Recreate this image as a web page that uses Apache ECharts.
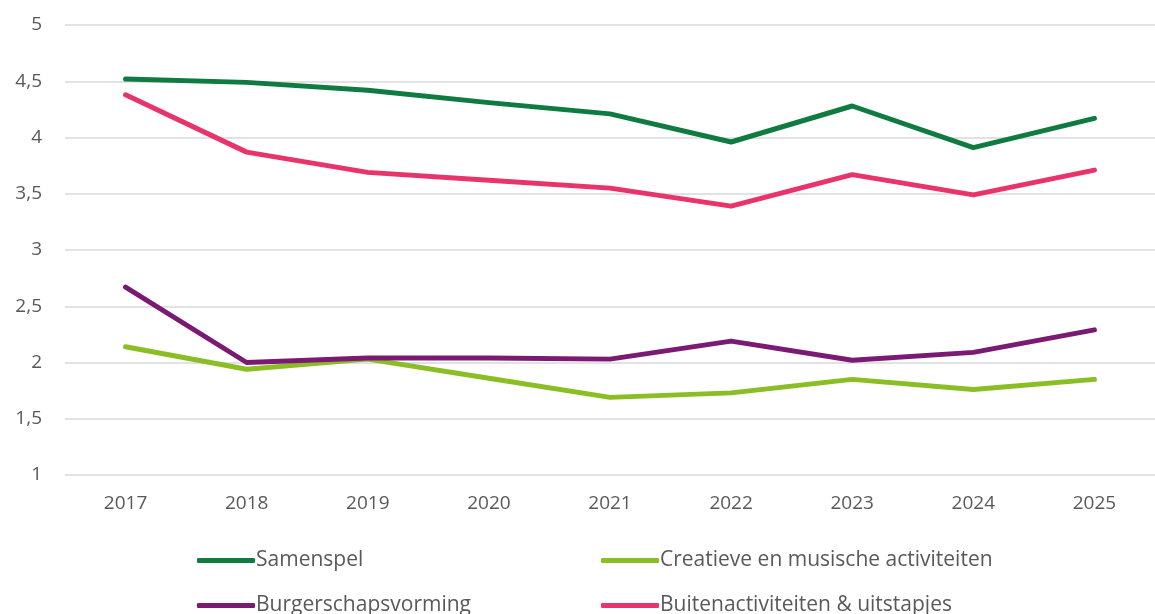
<!DOCTYPE html>
<html><head><meta charset="utf-8">
<script src="https://cdn.jsdelivr.net/npm/echarts@6/dist/echarts.min.js"></script>
<style>html,body{margin:0;padding:0;background:#fff}#c{width:1155px;height:614px}</style>
</head><body><div id="c"></div>
<script>
const years = ['2017','2018','2019','2020','2021','2022','2023','2024','2025'];
const samenspel = [4.52, 4.49, 4.42, 4.31, 4.21, 3.96, 4.28, 3.91, 4.17];
const creatieve = [2.14, 1.94, 2.03, 1.86, 1.69, 1.73, 1.85, 1.76, 1.85];
const burgerschap = [2.67, 2.00, 2.04, 2.04, 2.03, 2.19, 2.02, 2.09, 2.29];
const buiten = [4.38, 3.87, 3.69, 3.62, 3.55, 3.39, 3.67, 3.49, 3.71];
const names = ['Samenspel','Creatieve en musische activiteiten','Burgerschapsvorming','Buitenactiviteiten & uitstapjes'];
const colors = ['#107B40','#8BBD25','#7B1A72','#E8336B'];
const seriesData = [samenspel, creatieve, burgerschap, buiten];
const FONT = 'Open Sans';
const legendPos = [[192,545],[596,545],[192,590],[596,590]];
const chart = echarts.init(document.getElementById('c'));
chart.setOption({
  animation:false,
  textStyle:{fontFamily:FONT},
  grid:{left:65, top:25, width:1105, height:450, containLabel:false},
  xAxis:{type:'category', data:years, boundaryGap:true,
    axisLine:{show:false}, axisTick:{show:false},
    axisLabel:{color:'#595959', fontSize:19, fontFamily:FONT, margin:19}},
  yAxis:{type:'value', min:1, max:5, interval:0.5,
    axisLine:{show:false}, axisTick:{show:false},
    splitLine:{lineStyle:{color:'#D9D9D9', width:1.5}},
    axisLabel:{color:'#595959', fontSize:19, fontFamily:FONT, margin:23,
      formatter:v=>String(v).replace('.',',')}},
  legend: names.map((n,i)=>({data:[n], left:legendPos[i][0], top:legendPos[i][1],
    icon:'roundRect', itemWidth:58, itemHeight:5, itemGap:0,
    textStyle:{color:'#595959', fontSize:21, fontFamily:FONT, padding:[0,0,0,-4]}})),
  series: names.map((n,i)=>({name:n, type:'line', data:seriesData[i], symbol:'none',
    color:colors[i], lineStyle:{width:5, color:colors[i], cap:'round', join:'round'}}))
});
</script></body></html>
